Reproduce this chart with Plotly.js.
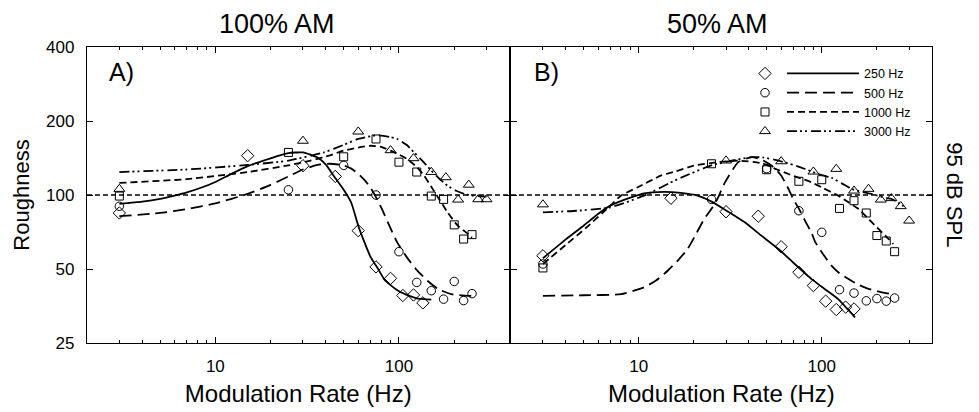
<!DOCTYPE html>
<html>
<head>
<meta charset="utf-8">
<script src="https://cdn.plot.ly/plotly-3.0.1.min.js"></script>
<style>
  html, body { margin: 0; padding: 0; background: #fff; }
  #chart { width: 979px; height: 412px; }
</style>
</head>
<body>
<div id="chart"></div>
<script>
// ---- Measured roughness, 100% AM (panel A) ----
const rateA250 = [3, 15, 30, 45, 60, 75, 90, 105, 120, 135];
const roughA250 = [84.5, 144.5, 131.6, 119, 71.6, 51, 45.8, 39, 39.2, 36.4];
const rateA500 = [3, 25, 50, 75, 100, 125, 150, 175, 200, 225, 250];
const roughA500 = [90, 105, 132, 100, 58.8, 44.1, 40.8, 37.7, 44.5, 37.2, 39.7];
const rateA1000 = [3, 25, 50, 75, 100, 125, 150, 175, 200, 225, 250];
const roughA1000 = [99, 149, 143, 169, 136, 124, 99, 96, 75.6, 66.2, 69];
const rateA3000 = [3, 30, 60, 90, 120, 150, 180, 210, 240, 270, 300];
const roughA3000 = [105.8, 166, 181, 152, 141, 124, 118, 95.7, 110, 96, 96];

// ---- Measured roughness, 50% AM (panel B) ----
const rateB250 = [3, 15, 30, 45, 60, 75, 90, 105, 120, 135, 150];
const roughB250 = [56.6, 97, 85.5, 82, 61.6, 48.5, 42.8, 37, 34.2, 35, 34.4];
const rateB500 = [3, 25, 50, 75, 100, 125, 150, 175, 200, 225, 250];
const roughB500 = [52.4, 96, 128, 86.3, 70.5, 41.2, 39.9, 37.1, 37.9, 37, 38.1];
const rateB1000 = [3, 25, 50, 75, 100, 125, 150, 175, 200, 225, 250];
const roughB1000 = [50.5, 134, 126.7, 113.7, 115.4, 88.2, 94.8, 84.5, 68.4, 65, 58.8];
const rateB3000 = [3, 30, 60, 90, 120, 150, 180, 210, 240, 270, 300];
const roughB3000 = [91.5, 138, 137, 124.4, 127.6, 104.1, 105.8, 95.7, 97, 90, 78.6];

// ---- Fitted curves, panel A ----
const fitRateA250 = [3, 4, 5, 6, 7, 8.5, 10, 12, 15, 20, 25, 30, 36, 40, 44, 50, 55, 60, 65, 70, 77, 83, 90, 98, 108, 116, 125, 137, 150];
const fitA250 = [92, 94, 96.5, 99.5, 102.5, 107.5, 113, 121, 131, 141, 148, 149, 142, 133, 120, 105, 93, 75, 64, 56, 50, 45.5, 43, 41, 39.5, 38.7, 38, 37.7, 37.5];
const fitRateA500 = [3, 5, 7, 10, 15, 20, 25, 30, 36, 42, 50, 55, 60, 65, 70, 75, 80, 87, 98, 111, 126, 143, 163, 193, 238, 250];
const fitA500 = [82, 84.5, 87.7, 92.5, 101, 110, 119, 127, 132.5, 134, 132, 128, 122, 115, 107, 98, 89, 77.4, 64, 55.5, 49.2, 44.8, 41.5, 39.5, 38.9, 38.9];
const fitRateA1000 = [3, 7, 15, 25, 33, 42, 50, 60, 70, 80, 90, 100, 111, 125, 137, 150, 163, 184, 209, 238, 250];
const fitA1000 = [112, 116, 124, 132, 138, 145, 151.5, 156, 158.6, 157, 151.5, 146, 140, 130, 120, 108, 98, 85, 75, 69.4, 67];
const fitRateA3000 = [3, 7, 15, 25, 39, 50, 60, 76, 90, 98, 110, 121, 135, 150, 165, 184, 205, 227, 250, 280, 300];
const fitA3000 = [124, 127, 132.5, 138, 149, 160, 169, 175, 172, 169, 160, 149, 137, 125.6, 117, 109, 104, 101, 99.5, 98.8, 98.5];

// ---- Fitted curves, panel B ----
const fitRateB250 = [3, 4, 5, 6, 7, 9, 10.7, 13.7, 17, 21, 25, 29.2, 38, 46, 58, 70, 88, 105, 123, 140, 152];
const fitB250 = [55.3, 66, 75, 83.7, 90.5, 97.5, 101.5, 103, 102, 99.4, 94, 87.7, 77.5, 69, 60.3, 53, 45.5, 41.2, 37.7, 34, 31.8];
const fitRateB500 = [3, 5, 8, 10.7, 12.5, 14.4, 16.5, 18.5, 20.5, 22.8, 25, 26.9, 29.6, 35, 41.5, 47, 53.3, 60, 65.8, 70, 75, 80, 88, 92, 100, 113, 125, 140, 160, 180, 210, 241, 250];
const fitB500 = [38.9, 39.1, 39.5, 42.1, 45, 49.2, 54.5, 60.3, 69, 79.9, 88, 96.3, 112.6, 136, 142.6, 139, 131.6, 120, 105.8, 96, 88, 80, 70, 64.5, 58.5, 51.6, 48, 45.5, 43, 41.5, 40.3, 39.5, 39.5];
const fitRateB1000 = [3, 4, 5.2, 7, 8, 10, 13.2, 16, 20, 27, 35, 47, 57, 65.8, 77, 88, 100, 123, 140, 159, 178, 196, 222, 246];
const fitB1000 = [52.4, 62.7, 73.9, 90.5, 99.4, 108, 119.8, 125, 131.6, 136, 138, 134.6, 127, 121.7, 116.7, 112.6, 107.4, 99.4, 93.4, 87.7, 80.6, 75, 68.4, 63.2];
const fitRateB3000 = [3, 4.6, 7, 10.7, 16.3, 24.7, 32.2, 41.5, 48, 58, 70, 81, 95, 113, 130, 146, 165, 188, 215, 241, 265, 280];
const fitB3000 = [85, 86.3, 89.1, 99.4, 116, 131.6, 138, 142.6, 142, 138, 132.5, 127.6, 122, 117.5, 111, 105.8, 103, 101, 98, 96.3, 92.5, 90];

// ---- Labels ----
const carrierNames = ['250 Hz', '500 Hz', '1000 Hz', '3000 Hz'];
const panelTitles = ['100% AM', '50% AM'];
const panelTags = ['A)', 'B)'];
const levelLabel = '95 dB SPL';
const referenceRoughness = 100;
const yTicks = [25, 50, 100, 200, 400];
const xTicks = [10, 100];
const xMinorTicks = [2, 3, 4, 5, 6, 7, 8, 9, 20, 30, 40, 50, 60, 70, 80, 90, 200, 300, 400];

const FONT = 'Liberation Sans, Arial, Helvetica, sans-serif';

const symbols = ['diamond-open', 'circle-open', 'square-open', 'triangle-up-open'];
const symbolSizes = [9.5, 8.5, 8, 9.5];
const dashes = ['solid', '12px,6px', '7px,4px', '10px,3px,2px,3px,2px,4px'];

const panelA = {
  pts: [[rateA250, roughA250], [rateA500, roughA500], [rateA1000, roughA1000], [rateA3000, roughA3000]],
  fits: [[fitRateA250, fitA250], [fitRateA500, fitA500], [fitRateA1000, fitA1000], [fitRateA3000, fitA3000]]
};
const panelB = {
  pts: [[rateB250, roughB250], [rateB500, roughB500], [rateB1000, roughB1000], [rateB3000, roughB3000]],
  fits: [[fitRateB250, fitB250], [fitRateB500, fitB500], [fitRateB1000, fitB1000], [fitRateB3000, fitB3000]]
};

const traces = [];
function addPanel(panel, xa, ya, withLegend) {
  panel.fits.forEach(function (f, i) {
    traces.push({
      type: 'scatter', mode: 'lines', x: f[0], y: f[1], xaxis: xa, yaxis: ya,
      line: { color: '#000', width: 1.8, dash: dashes[i], shape: 'spline', smoothing: 0.5 },
      name: carrierNames[i], showlegend: withLegend, legend: 'legend2', hoverinfo: 'skip'
    });
  });
  panel.pts.forEach(function (p, i) {
    traces.push({
      type: 'scatter', mode: 'markers', x: p[0], y: p[1], xaxis: xa, yaxis: ya,
      marker: { symbol: symbols[i], size: symbolSizes[i], color: '#000', line: { color: '#000', width: 1 } },
      name: '', showlegend: withLegend, legend: 'legend'
    });
  });
}
addPanel(panelA, 'x', 'y', false);
addPanel(panelB, 'x2', 'y2', true);

function xAxis(domain, anchor) {
  return {
    domain: domain, anchor: anchor, type: 'log',
    range: [Math.log10(2), Math.log10(400)],
    tickvals: xTicks, ticktext: xTicks.map(String),
    ticks: 'inside', ticklen: 6, tickwidth: 1, tickcolor: '#000',
    minor: { tickvals: xMinorTicks, ticks: 'inside', ticklen: 3, tickwidth: 1, tickcolor: '#000', showgrid: false },
    showline: true, linecolor: '#000', linewidth: 1.2, mirror: 'ticks',
    showgrid: false, zeroline: false,
    tickfont: { family: FONT, size: 17, color: '#000' },
    ticklabelstandoff: 7,
    title: { text: 'Modulation Rate (Hz)', font: { family: FONT, size: 24, color: '#000' }, standoff: 10 }
  };
}
function yAxis(anchor, showLabels) {
  return {
    anchor: anchor, type: 'log', domain: [0, 1],
    range: [Math.log10(25), Math.log10(400)],
    tickvals: yTicks, ticktext: yTicks.map(String),
    showticklabels: showLabels,
    ticks: 'inside', ticklen: 6, tickwidth: 1, tickcolor: '#000',
    showline: true, linecolor: '#000', linewidth: 1.2, mirror: 'ticks',
    showgrid: false, zeroline: false,
    tickfont: { family: FONT, size: 17, color: '#000' },
    ticklabelstandoff: 8
  };
}

const yA = yAxis('x', true);
yA.title = { text: 'Roughness', font: { family: FONT, size: 22, color: '#000' }, standoff: 10 };

const layout = {
  width: 979, height: 412,
  margin: { l: 87, r: 47, t: 47, b: 69 },
  paper_bgcolor: '#fff', plot_bgcolor: '#fff',
  font: { family: FONT, color: '#000' },
  xaxis: xAxis([0, 0.5], 'y'),
  yaxis: yA,
  // panel B starts one line-width further right so the shared border is drawn once
  xaxis2: xAxis([0.5014, 1], 'y2'),
  yaxis2: yAxis('x2', false),
  legend: {
    x: 0.7787, y: 0.96, xanchor: 'left', yanchor: 'top',
    bgcolor: 'rgba(0,0,0,0)', borderwidth: 0, tracegroupgap: 0,
    font: { family: FONT, size: 12.5, color: '#000' }, itemwidth: 30
  },
  legend2: {
    x: 0.8225, y: 0.96, xanchor: 'left', yanchor: 'top',
    bgcolor: 'rgba(0,0,0,0)', borderwidth: 0, tracegroupgap: 0,
    font: { family: FONT, size: 12.5, color: '#000' }, itemwidth: 72
  },
  shapes: [{
    type: 'line', xref: 'paper', x0: 0, x1: 1, yref: 'y', y0: referenceRoughness, y1: referenceRoughness,
    line: { color: '#000', width: 1.3, dash: '5px,3px' }, layer: 'below'
  }],
  annotations: [
    { text: panelTitles[0], xref: 'paper', x: 0.2249, yref: 'paper', y: 1, yshift: 23, xanchor: 'center', yanchor: 'middle', showarrow: false, font: { family: FONT, size: 27, color: '#000' } },
    { text: panelTitles[1], xref: 'paper', x: 0.7456, yref: 'paper', y: 1, yshift: 23, xanchor: 'center', yanchor: 'middle', showarrow: false, font: { family: FONT, size: 27, color: '#000' } },
    { text: panelTags[0], xref: 'x domain', x: 0.047, yref: 'y domain', y: 0.914, xanchor: 'left', yanchor: 'middle', showarrow: false, font: { family: FONT, size: 25, color: '#000' } },
    { text: panelTags[1], xref: 'x2 domain', x: 0.05, yref: 'y2 domain', y: 0.914, xanchor: 'left', yanchor: 'middle', showarrow: false, font: { family: FONT, size: 25, color: '#000' } },
    { text: levelLabel, xref: 'paper', x: 1.027, yref: 'paper', y: 0.5, xanchor: 'center', yanchor: 'middle', textangle: 90, showarrow: false, font: { family: FONT, size: 22, color: '#000' } }
  ]
};

Plotly.newPlot('chart', traces, layout, { displayModeBar: false, staticPlot: true });
</script>
</body>
</html>
